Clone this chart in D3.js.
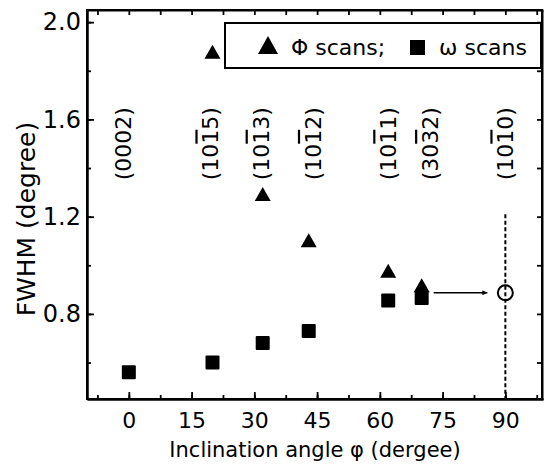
<!DOCTYPE html>
<html>
<head>
<meta charset="utf-8">
<script src="https://cdn.jsdelivr.net/npm/d3@7"></script>
<style>
  body { margin: 0; background: #fff; }
  svg text { font-family: "DejaVu Sans", "Liberation Sans", Arial, sans-serif; fill: #000; }
</style>
</head>
<body>
<div id="chart"></div>
<script>
// inclination angles of the measured reflections
const angles = [0, 20, 32, 43, 62, 70];
const omegaFwhm = [0.56, 0.60, 0.68, 0.73, 0.855, 0.865];
// Phi scans, no value at 0
const phiAngles = [20, 32, 43, 62, 70];
const phiFwhm = [1.875, 1.29, 1.10, 0.975, 0.915];
// extrapolated point at 90
const extraAngle = [90];
const extraFwhm = [0.887];

const millerLabels = ["(0002)", "(10-15)", "(10-13)", "(10-12)", "(10-11)", "(30-32)", "(10-10)"];
const labelAngles = [-1.5, 19.5, 31.5, 44, 62, 72, 90];
const labelLevel = 1.5;

const xTicks = [0, 15, 30, 45, 60, 75, 90];
const yTicks = [0.8, 1.2, 1.6, 2.0];

const width = 544, height = 470;
const margin = { left: 87, right: 1, top: 10, bottom: 71 };
const font = "'DejaVu Sans', 'Liberation Sans', Arial, sans-serif";

const svg = d3.select("#chart").append("svg")
    .attr("width", width)
    .attr("height", height);

const x = d3.scaleLinear().domain([-10, 99]).range([margin.left, width - margin.right]);
const y = d3.scaleLinear().domain([0.45, 2.05]).range([height - margin.bottom, margin.top]);

const minorX = d3.range(-7.5, 99, 7.5);
const minorY = d3.range(0.6, 2.05, 0.2);

// bottom axis: major with labels, minor without
svg.append("g")
    .attr("transform", "translate(0," + y.range()[0] + ")")
    .call(d3.axisBottom(x).tickValues(minorX).tickSizeInner(-4).tickSizeOuter(0).tickFormat(""));
svg.append("g")
    .attr("class", "xaxis")
    .attr("transform", "translate(0," + y.range()[0] + ")")
    .call(d3.axisBottom(x).tickValues(xTicks).tickSizeInner(-7).tickSizeOuter(0).tickPadding(13));

// left axis
svg.append("g")
    .attr("transform", "translate(" + x.range()[0] + ",0)")
    .call(d3.axisLeft(y).tickValues(minorY).tickSizeInner(-4).tickSizeOuter(0).tickFormat(""));
svg.append("g")
    .attr("class", "yaxis")
    .attr("transform", "translate(" + x.range()[0] + ",0)")
    .call(d3.axisLeft(y).tickValues(yTicks).tickSizeInner(-7).tickSizeOuter(0).tickPadding(6).tickFormat(d3.format(".1f")));

// top and right axes, ticks only
svg.append("g")
    .attr("transform", "translate(0," + y.range()[1] + ")")
    .call(d3.axisTop(x).tickValues(minorX).tickSizeInner(-5).tickSizeOuter(0).tickFormat(""));
svg.append("g")
    .attr("transform", "translate(" + (x.range()[1] - 1) + ",0)")
    .call(d3.axisRight(y).tickValues(minorY).tickSizeInner(-5).tickSizeOuter(0).tickFormat(""));

svg.selectAll(".domain").attr("stroke-width", 2);
svg.selectAll(".tick line").attr("stroke-width", 1.8);
svg.selectAll(".xaxis text")
    .style("font-size", "22px")
    .style("font-family", font)
    .attr("fill", "#000");
svg.selectAll(".yaxis text")
    .style("font-size", "24px")
    .style("font-family", font)
    .attr("fill", "#000");

// frame
svg.append("rect")
    .attr("x", x.range()[0])
    .attr("y", y.range()[1])
    .attr("width", x.range()[1] - x.range()[0] - 1)
    .attr("height", y.range()[0] - y.range()[1])
    .attr("fill", "none")
    .attr("stroke", "#000")
    .attr("stroke-width", 2);

// axis titles
svg.append("text")
    .attr("x", 315)
    .attr("y", 457)
    .attr("text-anchor", "middle")
    .style("font-size", "21px")
    .text("Inclination angle \u03c6 (dergee)");

svg.append("text")
    .attr("transform", "translate(35," + y(1.19) + ") rotate(-90)")
    .attr("text-anchor", "middle")
    .style("font-size", "25px")
    .text("FWHM (degree)");

// miller index labels, "-" puts a bar over the next digit
millerLabels.forEach((lab, i) => {
    const t = svg.append("text")
        .attr("transform", "translate(" + x(labelAngles[i]) + "," + y(labelLevel) + ") rotate(-90)")
        .attr("text-anchor", "middle")
        .attr("dominant-baseline", "central")
        .style("font-size", "22px");
    let buf = "";
    for (let k = 0; k < lab.length; k++) {
        if (lab[k] === "-") {
            if (buf) t.append("tspan").text(buf);
            buf = "";
            t.append("tspan").style("text-decoration", "overline").text(lab[k + 1]);
            k++;
        } else {
            buf += lab[k];
        }
    }
    if (buf) t.append("tspan").text(buf);
});

const triPath = (w, h) => "M0," + (-h * 0.55) + "L" + (w / 2) + "," + (h * 0.45) + "L" + (-w / 2) + "," + (h * 0.45) + "Z";

// dashed line at 90
svg.append("line")
    .attr("x1", x(90)).attr("x2", x(90))
    .attr("y1", y(1.21)).attr("y2", y.range()[0])
    .attr("stroke", "#000")
    .attr("stroke-width", 2)
    .attr("stroke-dasharray", "4,2.5");

// omega squares
svg.selectAll("rect.sq")
    .data(angles.map((a, i) => ({ a, v: omegaFwhm[i] })))
    .enter().append("rect")
    .attr("class", "sq")
    .attr("x", d => x(d.a) - 7)
    .attr("y", d => y(d.v) - 7)
    .attr("width", 14).attr("height", 14)
    .attr("rx", 1)
    .attr("fill", "#000");

// phi triangles
svg.selectAll("path.tri")
    .data(phiAngles.map((a, i) => ({ a, v: phiFwhm[i] })))
    .enter().append("path")
    .attr("class", "tri")
    .attr("transform", d => "translate(" + x(d.a) + "," + y(d.v) + ")")
    .attr("d", triPath(16, 14))
    .attr("fill", "#000");

// arrow to extrapolated point
svg.append("defs").append("marker")
    .attr("id", "arr")
    .attr("viewBox", "0 0 10 10")
    .attr("refX", 10).attr("refY", 5)
    .attr("markerWidth", 7).attr("markerHeight", 5)
    .attr("markerUnits", "userSpaceOnUse")
    .attr("orient", "auto")
    .append("path").attr("d", "M0,0L10,5L0,10Z").attr("fill", "#000");

svg.append("line")
    .attr("x1", x(phiAngles[4]) + 12).attr("x2", x(extraAngle[0]) - 18)
    .attr("y1", y(extraFwhm[0])).attr("y2", y(extraFwhm[0]))
    .attr("stroke", "#000")
    .attr("stroke-width", 1.6)
    .attr("marker-end", "url(#arr)");

svg.selectAll("circle.ex")
    .data(extraAngle.map((a, i) => ({ a, v: extraFwhm[i] })))
    .enter().append("circle")
    .attr("class", "ex")
    .attr("cx", d => x(d.a))
    .attr("cy", d => y(d.v))
    .attr("r", 7.5)
    .attr("fill", "none")
    .attr("stroke", "#000")
    .attr("stroke-width", 2);

// legend
const lg = svg.append("g");
lg.append("rect")
    .attr("x", 225).attr("y", 23)
    .attr("width", 316).attr("height", 45)
    .attr("fill", "#fff")
    .attr("stroke", "#000")
    .attr("stroke-width", 2);
lg.append("path")
    .attr("transform", "translate(268,46)")
    .attr("d", triPath(20, 18))
    .attr("fill", "#000");
lg.append("text")
    .attr("x", 291).attr("y", 55)
    .style("font-size", "22px")
    .text("\u03a6 scans;");
lg.append("rect")
    .attr("x", 410).attr("y", 40)
    .attr("width", 15).attr("height", 15)
    .attr("fill", "#000");
lg.append("text")
    .attr("x", 439).attr("y", 55)
    .style("font-size", "22px")
    .text("\u03c9 scans");
</script>
</body>
</html>
